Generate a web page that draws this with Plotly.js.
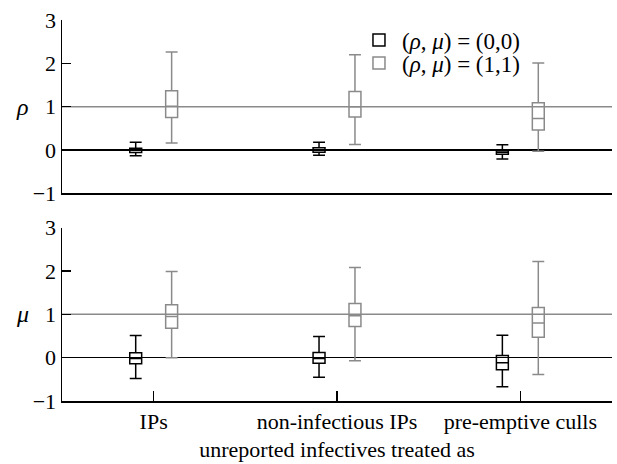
<!DOCTYPE html>
<html>
<head>
<meta charset="utf-8">
<script src="https://cdn.plot.ly/plotly-3.0.1.min.js"></script>
<style>html,body{margin:0;padding:0;background:#fff;}#chart{width:617px;height:464px;}</style>
</head>
<body>
<div id="chart"></div>
<script>
// categories
var categories = ['IPs', 'non-infectious IPs', 'pre-emptive culls'];

// rho panel, (rho,mu) = (0,0)
var rho00Low = [-0.13, -0.12, -0.21];
var rho00Q1 = [-0.06, -0.05, -0.10];
var rho00Med = [0.0, 0.0, -0.05];
var rho00Q3 = [0.04, 0.05, -0.01];
var rho00High = [0.18, 0.18, 0.12];

// rho panel, (rho,mu) = (1,1)
var rho11Low = [0.16, 0.13, -0.03];
var rho11Q1 = [0.75, 0.76, 0.46];
var rho11Med = [1.01, 1.0, 0.73];
var rho11Q3 = [1.37, 1.35, 1.09];
var rho11High = [2.26, 2.2, 2.01];

// mu panel, (rho,mu) = (0,0)
var mu00Low = [-0.48, -0.45, -0.67];
var mu00Q1 = [-0.14, -0.13, -0.28];
var mu00Med = [-0.02, -0.02, -0.12];
var mu00Q3 = [0.115, 0.12, 0.05];
var mu00High = [0.51, 0.49, 0.52];

// mu panel, (rho,mu) = (1,1)
var mu11Low = [0.0, -0.07, -0.39];
var mu11Q1 = [0.68, 0.72, 0.47];
var mu11Med = [0.95, 0.97, 0.8];
var mu11Q3 = [1.22, 1.25, 1.16];
var mu11High = [1.99, 2.08, 2.22];

// reference (true) values
var trueValue = 1;
var yTicks = [-1, 0, 1, 2, 3];
var yTickText = ['\u22121', '0', '1', '2', '3'];

var legendNames = ['(<i>ρ</i>, <i>μ</i>) = (0,0)', '(<i>ρ</i>, <i>μ</i>) = (1,1)'];

var BLACK = '#000000';
var GRAY = '#8a8a8a';
var FONT = '"Liberation Serif", "DejaVu Serif", serif';

function boxTrace(name, color, group, lo, q1, med, q3, hi, xa, ya, showLegend, legendId) {
  return {
    type: 'box',
    name: name,
    x: categories,
    lowerfence: lo, q1: q1, median: med, q3: q3, upperfence: hi,
    xaxis: xa, yaxis: ya,
    offsetgroup: group,
    line: {color: color, width: 1.5},
    fillcolor: 'rgba(0,0,0,0)',
    whiskerwidth: 1,
    boxpoints: false,
    showlegend: showLegend,
    legend: legendId,
    legendgroup: group,
    hoverinfo: 'skip'
  };
}

var data = [
  boxTrace(legendNames[0], BLACK, 'g00', rho00Low, rho00Q1, rho00Med, rho00Q3, rho00High, 'x2', 'y', true, 'legend'),
  boxTrace(legendNames[1], GRAY, 'g11', rho11Low, rho11Q1, rho11Med, rho11Q3, rho11High, 'x2', 'y', true, 'legend2'),
  boxTrace(legendNames[0], BLACK, 'g00', mu00Low, mu00Q1, mu00Med, mu00Q3, mu00High, 'x', 'y2', false, 'legend'),
  boxTrace(legendNames[1], GRAY, 'g11', mu11Low, mu11Q1, mu11Med, mu11Q3, mu11High, 'x', 'y2', false, 'legend2')
];

var yAxisBase = {
  range: [-1, 3],
  tickvals: yTicks,
  ticktext: yTickText,
  showgrid: false,
  zeroline: true,
  zerolinecolor: BLACK,
  zerolinewidth: 1.5,
  showline: true,
  linecolor: BLACK,
  linewidth: 1.5,
  ticks: 'inside',
  ticklen: 9,
  tickwidth: 1.5,
  tickcolor: BLACK,
  tickfont: {family: FONT, size: 22, color: BLACK},
  fixedrange: true
};

var legendBase = {
  x: 0.5345, xanchor: 'left',
  yanchor: 'middle',
  bgcolor: 'rgba(0,0,0,0)',
  font: {family: FONT, size: 23, color: BLACK},
  itemwidth: 36,
  itemclick: false
};

var layout = {
  width: 617,
  height: 464,
  margin: {l: 62, r: 5, t: 20, b: 63},
  paper_bgcolor: '#ffffff',
  plot_bgcolor: '#ffffff',
  font: {family: FONT, size: 22, color: BLACK},
  boxmode: 'group',
  boxgap: 0.608,
  boxgroupgap: 0.668,
  showlegend: true,
  legend: Object.assign({}, legendBase, {y: 0.9475}),
  legend2: Object.assign({}, legendBase, {y: 0.887}),
  xaxis: {
    type: 'category',
    anchor: 'y2',
    range: [-0.5, 2.5],
    showgrid: false,
    zeroline: false,
    showline: true,
    linecolor: BLACK,
    linewidth: 1.5,
    ticks: 'inside',
    ticklen: 10,
    tickwidth: 1.5,
    tickcolor: BLACK,
    tickfont: {family: FONT, size: 22, color: BLACK},
    title: {text: 'unreported infectives treated as', font: {family: FONT, size: 22, color: BLACK}, standoff: 8},
    fixedrange: true
  },
  xaxis2: {
    type: 'category',
    anchor: 'y',
    range: [-0.5, 2.5],
    showgrid: false,
    zeroline: false,
    showline: true,
    linecolor: BLACK,
    linewidth: 1.5,
    ticks: '',
    showticklabels: false,
    fixedrange: true
  },
  yaxis: Object.assign({}, yAxisBase, {domain: [0.545, 1], anchor: 'x2'}),
  yaxis2: Object.assign({}, yAxisBase, {domain: [0, 0.455], anchor: 'x'}),
  shapes: [
    {type: 'line', layer: 'below', xref: 'x2 domain', yref: 'y', x0: 0, x1: 1, y0: trueValue, y1: trueValue, line: {color: GRAY, width: 1.5}},
    {type: 'line', layer: 'below', xref: 'x domain', yref: 'y2', x0: 0, x1: 1, y0: trueValue, y1: trueValue, line: {color: GRAY, width: 1.5}}
  ],
  annotations: [
    {xref: 'paper', yref: 'y', x: -0.071, y: trueValue, text: '<i>ρ</i>', showarrow: false, xanchor: 'center', yanchor: 'middle', font: {family: FONT, size: 24, color: BLACK}},
    {xref: 'paper', yref: 'y2', x: -0.071, y: trueValue, text: '<i>μ</i>', showarrow: false, xanchor: 'center', yanchor: 'middle', font: {family: FONT, size: 24, color: BLACK}}
  ]
};

Plotly.newPlot('chart', data, layout, {staticPlot: true, displayModeBar: false});
</script>
</body>
</html>
